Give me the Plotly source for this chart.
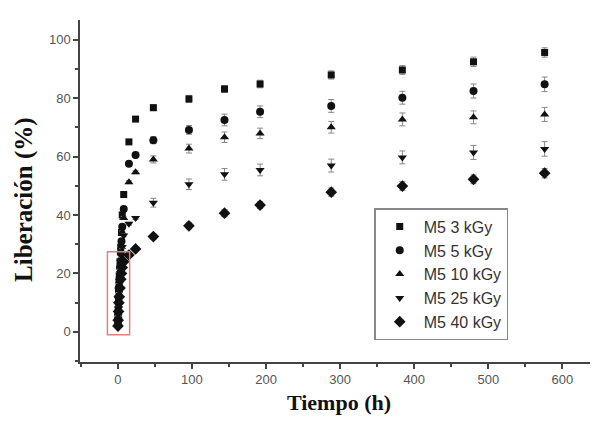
import plotly.graph_objects as go

tiempo = [0.25, 0.5, 1, 1.5, 2, 3, 4, 5, 6, 8, 15, 24, 48, 96, 144, 192, 288, 384, 480, 576]

lib_3kGy = [3, 7, 11, 15, 19, 24, 29, 34, 40, 47, 65, 72.8, 76.7, 79.7, 83.1, 84.8, 87.9, 89.6, 92.4, 95.6]
lib_5kGy = [2.5, 6, 10, 14, 17, 22, 27, 31, 36, 42, 57.5, 60.5, 65.6, 69.1, 72.5, 75.3, 77.3, 80.1, 82.4, 84.7]
lib_10kGy = [2.5, 5, 9, 13, 16, 21, 25, 29, 34, 39, 51.2, 54.6, 59.0, 62.7, 66.6, 67.9, 70.0, 72.7, 73.4, 74.4]
lib_25kGy = [2, 4.5, 8, 11, 14, 18, 22, 26, 29, 33, 37.0, 39.0, 44.2, 50.5, 53.9, 55.4, 56.9, 59.7, 61.4, 62.6]
lib_40kGy = [2, 4, 7, 10, 12, 15, 18, 20, 22, 24, 26.3, 28.4, 32.6, 36.3, 40.6, 43.4, 47.8, 49.9, 52.2, 54.3]

err_3kGy = [0.5]*12 + [1.0, 1.2, 1.2, 1.3, 1.4, 1.5, 1.6, 1.6]
err_5kGy = [0.5]*12 + [1.2, 1.5, 2.0, 2.0, 2.2, 2.2, 2.4, 2.5]
err_10kGy = [0.5]*12 + [1.2, 1.5, 1.8, 1.8, 2.0, 2.2, 2.2, 2.4]
err_25kGy = [0.5]*12 + [1.5, 1.8, 2.0, 2.0, 2.2, 2.2, 2.4, 2.5]
err_40kGy = [0.5]*12 + [1.0, 1.0, 1.2, 1.2, 1.4, 1.5, 1.5, 1.6]

series = [
    ("M5 3 kGy", lib_3kGy, err_3kGy, "square", 7),
    ("M5 5 kGy", lib_5kGy, err_5kGy, "circle", 8),
    ("M5 10 kGy", lib_10kGy, err_10kGy, "triangle-up", 8),
    ("M5 25 kGy", lib_25kGy, err_25kGy, "triangle-down", 8),
    ("M5 40 kGy", lib_40kGy, err_40kGy, "diamond", 9),
]

fig = go.Figure()
for name, vals, errs, sym, sz in series:
    fig.add_trace(go.Scatter(
        x=tiempo, y=vals, mode="markers", name=name,
        marker=dict(symbol=sym, size=sz, color="#111111"),
        error_y=dict(type="data", array=errs, visible=True, color="#888888", thickness=1, width=3),
    ))

fig.add_shape(type="rect", x0=-14, x1=16, y0=-1, y1=27.4, xref="x", yref="y",
              line=dict(color="#e08080", width=1.5), fillcolor="rgba(0,0,0,0)")

fig.add_annotation(text="<b>Liberación (%)</b>", textangle=-90, xref="paper", yref="paper",
                   x=-0.108, y=0.474, xanchor="center", yanchor="middle", showarrow=False,
                   font=dict(family="Liberation Serif, Times New Roman", size=25, color="#111111"))

fig.update_layout(
    template="none",
    width=590, height=418,
    margin=dict(l=72, r=0, t=12, b=64),
    paper_bgcolor="white", plot_bgcolor="white",
    font=dict(family="Liberation Sans, Arial", color="#444444"),
    showlegend=True,
    legend=dict(x=0.568, y=0.45, xanchor="left", yanchor="top",
                bordercolor="#888888", borderwidth=1.5, itemwidth=38,
                font=dict(size=16, color="#333333", family="Liberation Sans, Arial"),
                bgcolor="white"),
)
fig.update_xaxes(
    range=[-51, 648], showgrid=False, zeroline=False,
    showline=True, linecolor="#444444", linewidth=1.5,
    ticks="outside", ticklen=5, tickcolor="#444444", tickwidth=1.5,
    tickvals=[0, 100, 200, 300, 400, 500, 600],
    tickfont=dict(size=13, color="#555555"),
    minor=dict(ticks="outside", ticklen=3, tickcolor="#444444", dtick=50, tick0=0),
    title=dict(text="<b>Tiempo (h)</b>", font=dict(family="Liberation Serif, Times New Roman", size=22, color="#111111"), standoff=8),
)
fig.update_yaxes(
    range=[-10.3, 106.7], showgrid=False, zeroline=False,
    showline=True, linecolor="#444444", linewidth=1.5,
    ticks="outside", ticklen=5, tickcolor="#444444", tickwidth=1.5,
    tickvals=[0, 20, 40, 60, 80, 100],
    tickfont=dict(size=13, color="#555555"),
    minor=dict(ticks="outside", ticklen=3, tickcolor="#444444", dtick=10, tick0=0),
)

fig.write_html("out.html")
